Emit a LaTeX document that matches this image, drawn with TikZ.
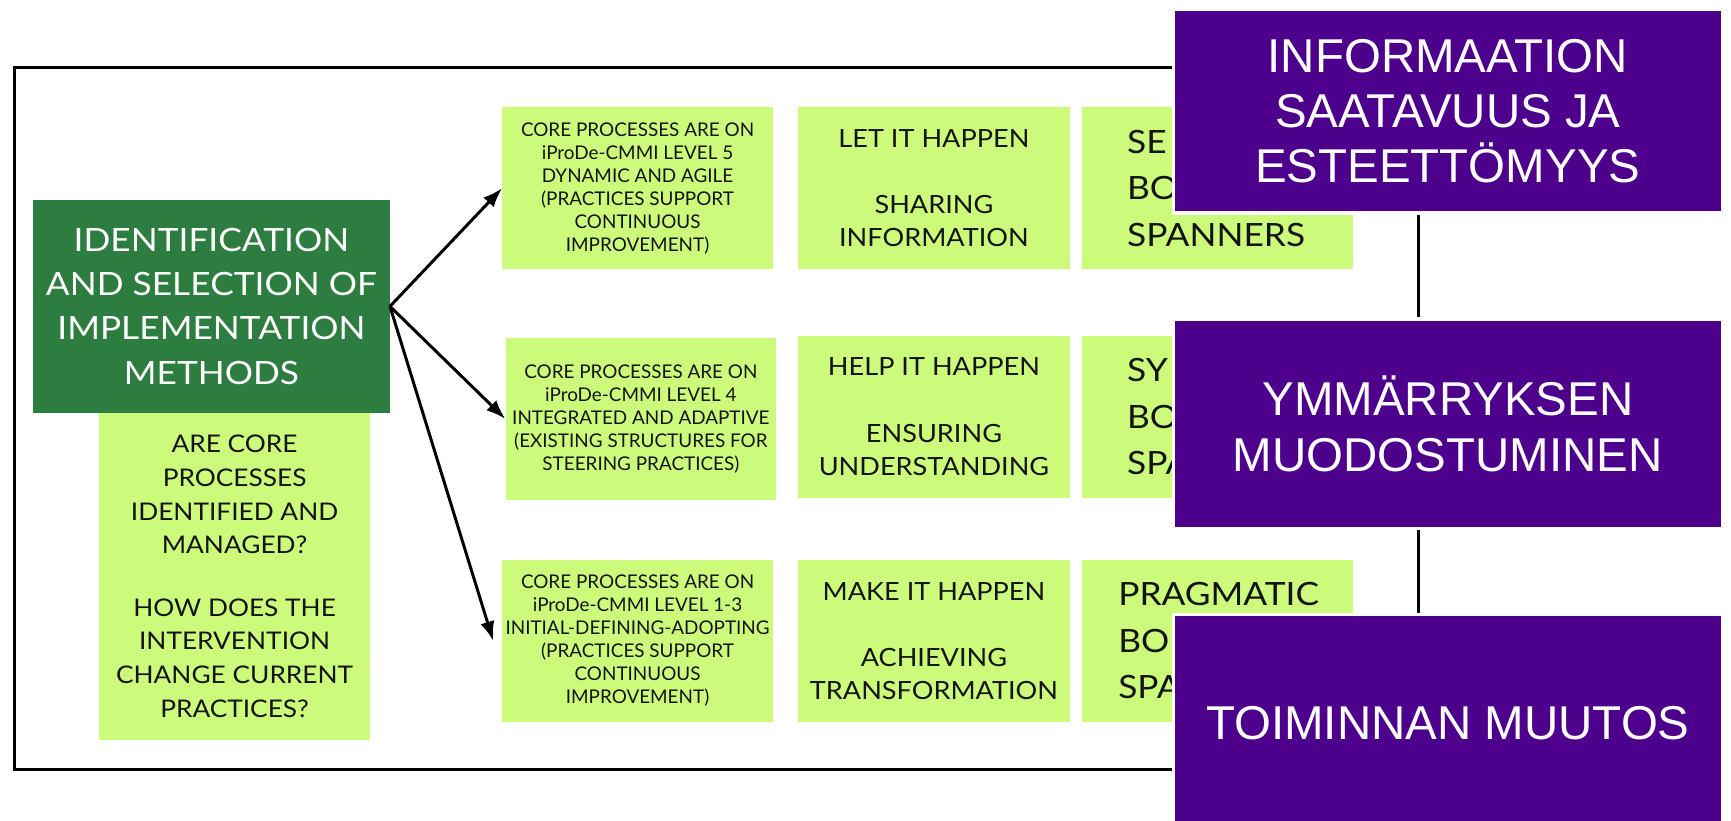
\documentclass[tikz,border=0pt]{standalone}
\usepackage{fontspec}
\setmainfont{Lato}
\newfontfamily\widefont[FakeStretch=1.1]{Lato}
\newfontfamily\qfont[FakeStretch=1.08]{Lato}
\newfontfamily\levelfont[FakeStretch=1.0]{Lato}
\newfontfamily\modefont[FakeStretch=1.08]{Lato}
\newfontfamily\slidefont{Liberation Sans}
\usetikzlibrary{arrows.meta}
\definecolor{deepgreen}{HTML}{2E7D40}
\definecolor{limegreen}{HTML}{CCFB7C}
\definecolor{indigo}{HTML}{4D008C}
\definecolor{inkgray}{HTML}{141414}
\tikzset{
  darkbox/.style={fill=deepgreen, text=white, inner sep=0pt, align=center,
    font=\widefont\fontsize{24.8pt}{34.1pt}\selectfont},
  limebox/.style={fill=limegreen, text=inkgray, inner sep=0pt, align=center},
  questionbox/.style={limebox, minimum width=7.35cm, minimum height=4.44cm,
    font=\qfont\fontsize{18.8pt}{26pt}\selectfont},
  levelbox/.style={limebox, minimum width=7.35cm, minimum height=4.41cm,
    font=\levelfont\fontsize{14.6pt}{17.8pt}\selectfont},
  modebox/.style={limebox, minimum width=7.38cm, minimum height=4.41cm,
    font=\modefont\fontsize{19.4pt}{25.6pt}\selectfont},
  spannerbox/.style={limebox, align=left, minimum height=4.41cm,
    font=\widefont\fontsize{24.8pt}{35.9pt}\selectfont},
  slidebox/.style={fill=indigo, draw=white, line width=2.6pt, text=white,
    inner sep=0pt, align=center, minimum width=14.91cm,
    font=\slidefont\fontsize{36.7pt}{42.7pt}\selectfont},
  flow/.style={line width=2.3pt, -{Latex[length=15pt,width=11pt]}},
}
\begin{document}
\begin{tikzpicture}[x=0.03cm, y=-0.03cm]
\useasboundingbox (0,0) rectangle (1568,743);
\fill[white] (0,0) rectangle (1568,743);

% outer frame around the method overview
\draw[line width=2.6pt] (13,61) rectangle (1285,697);

% left column: method selection and guiding questions
\node[darkbox, minimum width=9.69cm, minimum height=5.79cm] (method) at (191.5,277.5)
  {IDENTIFICATION\\AND SELECTION OF\\IMPLEMENTATION\\METHODS};
\node[questionbox] (q1) at (212.5,448)
  {ARE CORE\\PROCESSES\\IDENTIFIED AND\\MANAGED?};
\node[questionbox] (q2) at (212.5,596)
  {HOW DOES THE\\INTERVENTION\\CHANGE CURRENT\\PRACTICES?};

% maturity levels
\node[levelbox] (lvl5) at (577.5,170.5)
  {CORE PROCESSES ARE ON\\iProDe-CMMI LEVEL 5\\DYNAMIC AND AGILE\\(PRACTICES SUPPORT\\CONTINUOUS\\IMPROVEMENT)};
\node[levelbox] (lvl4) at (580.5,379.5)
  {CORE PROCESSES ARE ON\\iProDe-CMMI LEVEL 4\\INTEGRATED AND ADAPTIVE\\(EXISTING STRUCTURES FOR\\STEERING PRACTICES)};
\node[levelbox] (lvl13) at (577.5,580.5)
  {CORE PROCESSES ARE ON\\iProDe-CMMI LEVEL 1-3\\INITIAL-DEFINING-ADOPTING\\(PRACTICES SUPPORT\\CONTINUOUS\\IMPROVEMENT)};

% implementation modes
\node[modebox] (let) at (846,170.5)
  {LET IT HAPPEN\\[25.6pt]SHARING\\INFORMATION};
\node[modebox] (help) at (846,377.5)
  {HELP IT HAPPEN\\[25.6pt]ENSURING\\UNDERSTANDING};
\node[modebox] (make) at (846,580.5)
  {MAKE IT HAPPEN\\[25.6pt]ACHIEVING\\TRANSFORMATION};

% boundary spanners (partly covered by the summary boxes)
\node[spannerbox, inner xsep=1.23cm, text width=4.92cm] (sem) at (1103,170.5)
  {SE\\BO\\SPANNERS};
\node[spannerbox, inner xsep=1.23cm, text width=4.92cm] (syn) at (1103,377.5)
  {SY\\BO\\SPA};
\node[spannerbox, inner xsep=0.99cm, text width=5.4cm] (prag) at (1103,580.5)
  {PRAGMATIC\\BO\\SPA};

% arrows from the method box to the maturity levels
\draw[flow] (method.east) -- (lvl5.west);
\draw[flow] (method.east) -- (lvl4.west);
\draw[flow] (method.east) -- ([xshift=-0.24cm]lvl13.west);

% overlaid summary boxes
\node[slidebox, minimum height=5.55cm] (info) at (1311.5,100.5)
  {INFORMAATION\\SAATAVUUS JA\\ESTEETTÖMYYS};
\node[slidebox, minimum height=5.7cm] (understand) at (1311.5,384)
  {YMMÄRRYKSEN\\MUODOSTUMINEN};
\node[slidebox, minimum height=5.9cm] (change) at (1311.5,655)
  {TOIMINNAN MUUTOS};
\end{tikzpicture}
\end{document}
